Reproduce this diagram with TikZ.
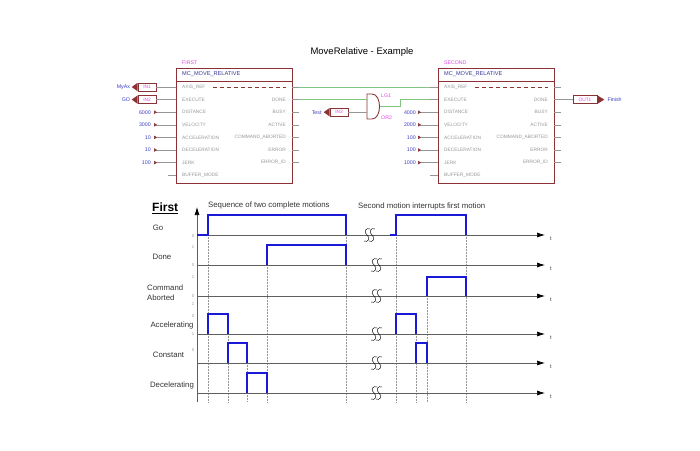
\documentclass[tikz,border=0pt]{standalone}
\usepackage{fontspec}
\setmainfont{Liberation Sans}
\usetikzlibrary{arrows.meta,positioning}

\definecolor{fbred}{RGB}{140,50,55}
\definecolor{pingray}{RGB}{150,150,150}
\definecolor{fbblue}{RGB}{50,50,150}
\definecolor{instpink}{RGB}{225,70,225}
\definecolor{valblue}{RGB}{60,60,200}
\definecolor{wiregreen}{RGB}{130,195,130}
\definecolor{sigblue}{RGB}{25,25,215}
\definecolor{axisgray}{RGB}{95,95,95}

\tikzset{
  fbbox/.style={draw=fbred, line width=0.9pt},
  pinname/.style={font=\fontsize{4.8}{5}\selectfont, text=pingray, inner sep=0pt},
  pinline/.style={draw=pingray, line width=0.5pt},
  fbtitle/.style={font=\fontsize{5.6}{6}\selectfont, text=fbblue, inner sep=0pt, anchor=west},
  instname/.style={font=\fontsize{5.2}{6}\selectfont, text=instpink, inner sep=0pt, anchor=west},
  varname/.style={font=\fontsize{5.3}{6}\selectfont, text=valblue, inner sep=0pt, anchor=east},
  iobox/.style={draw=fbred, line width=0.6pt, minimum width=18pt, minimum height=8pt, inner sep=0pt, font=\fontsize{4.8}{5}\selectfont, text=instpink},
  wire/.style={draw=wiregreen, line width=0.6pt},
  sig/.style={draw=sigblue, line width=1.8pt},
  timeaxis/.style={draw=axisgray, line width=0.7pt, -{Latex[length=8pt,width=5pt,color=black]}},
  guide/.style={draw=pingray, densely dotted, line width=0.5pt},
  siglab/.style={font=\fontsize{7.8}{10}\selectfont, text=black!80, inner sep=0pt},
  lvl/.style={font=\fontsize{4.2}{5}\selectfont, text=pingray, inner sep=0pt},
  tlab/.style={font=\fontsize{5.5}{6}\selectfont, text=black!80, inner sep=0pt},
  brk/.pic={
    \foreach \dx in {0,5}
      \draw[black, line width=0.45pt, xshift=\dx pt] (3,-6) .. controls (-1,-8) and (-4,-3) .. (0,0) .. controls (4,3) and (1,8) .. (-3,6);
  },
}

\begin{document}
\begin{tikzpicture}[x=1pt,y=-1pt]
\useasboundingbox (0,0) rectangle (700,450);

% function blocks
\node[font=\fontsize{9.5}{11}\selectfont] (title) at (362,52) {MoveRelative - Example};
\foreach \blk/\bx/\bname in {first/176/FIRST,second/438/SECOND}{
  \node[fbbox, minimum width=116pt, minimum height=115pt, anchor=north west] (\blk) at (\bx,68) {};
  \draw[fbbox] ([yshift=-13pt]\blk.north west) -- ([yshift=-13pt]\blk.north east);
  \node[instname] (\blk-name) at ({\bx+6},62.5) {\bname};
  \node[fbtitle] (\blk-type) at ({\bx+6},74.5) {MC\_MOVE\_RELATIVE};
  \foreach \p [count=\k] in {AXIS\_REF,EXECUTE,DISTANCE,VELOCITY,ACCELERATION,DECELERATION,JERK,BUFFER\_MODE}{
    \node[pinname, anchor=west] (\blk-in\k) at ({\bx+6},{74.4+12.6*\k}) {\p};
    \coordinate (\blk-i\k) at ({\bx-8},{74.4+12.6*\k});
    \draw[pinline] (\blk-i\k) -- ({\bx},{74.4+12.6*\k});
  }
  \foreach \p [count=\k] in {{},DONE,BUSY,ACTIVE,COMMAND\_ABORTED,ERROR,ERROR\_ID}{
    \node[pinname, anchor=east] (\blk-out\k) at ({\bx+110},{74.4+12.6*\k}) {\p};
    \coordinate (\blk-o\k) at ({\bx+123},{74.4+12.6*\k});
    \draw[pinline] ({\bx+116},{74.4+12.6*\k}) -- (\blk-o\k);
  }
  \draw[fbred, dash pattern=on 4pt off 3pt, line width=0.6pt] ({\bx+37},87) -- ({\bx+110},87);
}

% inputs of FIRST
\node[iobox] (in1) at (147,87) {IN1};
\node[iobox] (in2) at (147,99.6) {IN2};
\foreach \io in {in1,in2}
  \fill[fbred] (\io.north west) -- (\io.south west) -- ([xshift=-6pt]\io.west) -- cycle;
\node[varname, left=7.5pt of in1] (myax) {MyAx};
\node[varname, left=7.5pt of in2] (go) {GO};
\draw[pinline] (in1) -- (first-i1);
\draw[pinline] (in2) -- (first-i2);
\foreach \v [count=\k from 3] in {6000,3000,10,10,100}{
  \node[varname] (first-v\k) at (151,{74.4+12.6*\k}) {\v};
  \draw[pinline, {Triangle[reversed,color=fbred,length=3pt,width=3.5pt]}-] ([xshift=3pt]first-v\k.east) -- (first-i\k);
}
\foreach \v [count=\k from 3] in {4000,2000,100,100,1000}{
  \node[varname] (second-v\k) at (416,{74.4+12.6*\k}) {\v};
  \draw[pinline, {Triangle[reversed,color=fbred,length=3pt,width=3.5pt]}-] ([xshift=2pt]second-v\k.east) -- (second-i\k);
}

% gate
\draw[fbbox] (367,94) -- (372,94) .. controls (382,94) and (382,119) .. (372,119) -- (367,119) -- cycle;
\coordinate (lg-a) at (367,99.6);
\coordinate (lg-b) at (367,112.2);
\coordinate (lg-q) at (379.5,106.5);
\node[instname] (lg1) at (381,96) {LG1};
\node[instname] (or2) at (381,117.5) {OR2};
\node[iobox] (in3) at (339,112.2) {IN3};
\fill[fbred] (in3.north west) -- (in3.south west) -- ([xshift=-6pt]in3.west) -- cycle;
\node[varname, left=8pt of in3] (test) {Test};
\draw[pinline] (in3) -- (lg-b);

% wires
\draw[wire] (first-o1) -- (second-i1);
\draw[wire] (first-o2) -- (lg-a);
\draw[wire] (lg-q) -- ++(20.5,0) |- (second-i2);

% output of SECOND
\node[iobox, minimum width=24pt] (out1) at (585,99.6) {OUT1};
\fill[fbred] (out1.north east) -- (out1.south east) -- ([xshift=7pt]out1.east) -- cycle;
\node[varname, anchor=west, right=10pt of out1] (finish) {Finish};
\draw[pinline] (second-o2) -- (out1);

% timing diagram
\node[font=\bfseries\fontsize{12}{14}\selectfont, anchor=west, inner sep=0pt] (firsthd) at (152,208) {\underline{First}};
\node[siglab, anchor=west] (seq1) at (208,205) {Sequence of two complete motions};
\node[siglab, anchor=west] (seq2) at (358,206) {Second motion interrupts first motion};

\foreach \x/\ys in {208/235,228/334,247/363,267/265,346/235,396/235,416/334,427/296,466/235}
  \draw[guide] (\x,\ys) -- (\x,402);

\foreach \nm/\yy in {go/235,done/265,cmd/296,acc/334,con/363,dec/393}{
  \coordinate (\nm-0) at (197,\yy);
  \coordinate (\nm-1) at (545,\yy);
  \draw[timeaxis] (\nm-0) -- (\nm-1);
  \node[tlab] (\nm-t) at ([xshift=6pt,yshift=-4pt]\nm-1) {t};
}
\coordinate (ax0) at (197,402);
\coordinate (ax1) at (197,207);
\draw[timeaxis] (ax0) -- (ax1);

\pic (brk1) at (367,235) {brk};
\foreach \nm/\yy in {done/265,cmd/296,acc/334,con/363,dec/393}
  \pic (brk-\nm) at (374,\yy) {brk};

\draw[sig] (go-0) -- (208,235) |- (346,215) -- (346,235);
\draw[sig] (390,235) -- (396,235) |- (466,215) -- (466,235);
\foreach \ya/\yb/\xa/\xb in {265/245/267/346,296/277/427/466,334/314/208/228,334/314/396/416,363/343/228/247,363/343/416/427,393/373/247/267}
  \draw[sig] (\xa,\ya) |- (\xb,\yb) -- (\xb,\ya);

\node[siglab] (golab) at (158,228) {Go};
\node[siglab] (donelab) at (162,257) {Done};
\node[siglab, align=left, anchor=west] (cmdlab) at (147,293) {Command\\Aborted};
\node[siglab] (acclab) at (172,325) {Accelerating};
\node[siglab] (conlab) at (168.5,355) {Constant};
\node[siglab] (declab) at (172,385) {Decelerating};

\foreach \lv/\yy [count=\k] in {0/236,1/247,0/265,1/277,0/296,1/304,0/316,1/334,0/350}
  \node[lvl] (lvl\k) at (193,\yy) {\lv};
\end{tikzpicture}
\end{document}
